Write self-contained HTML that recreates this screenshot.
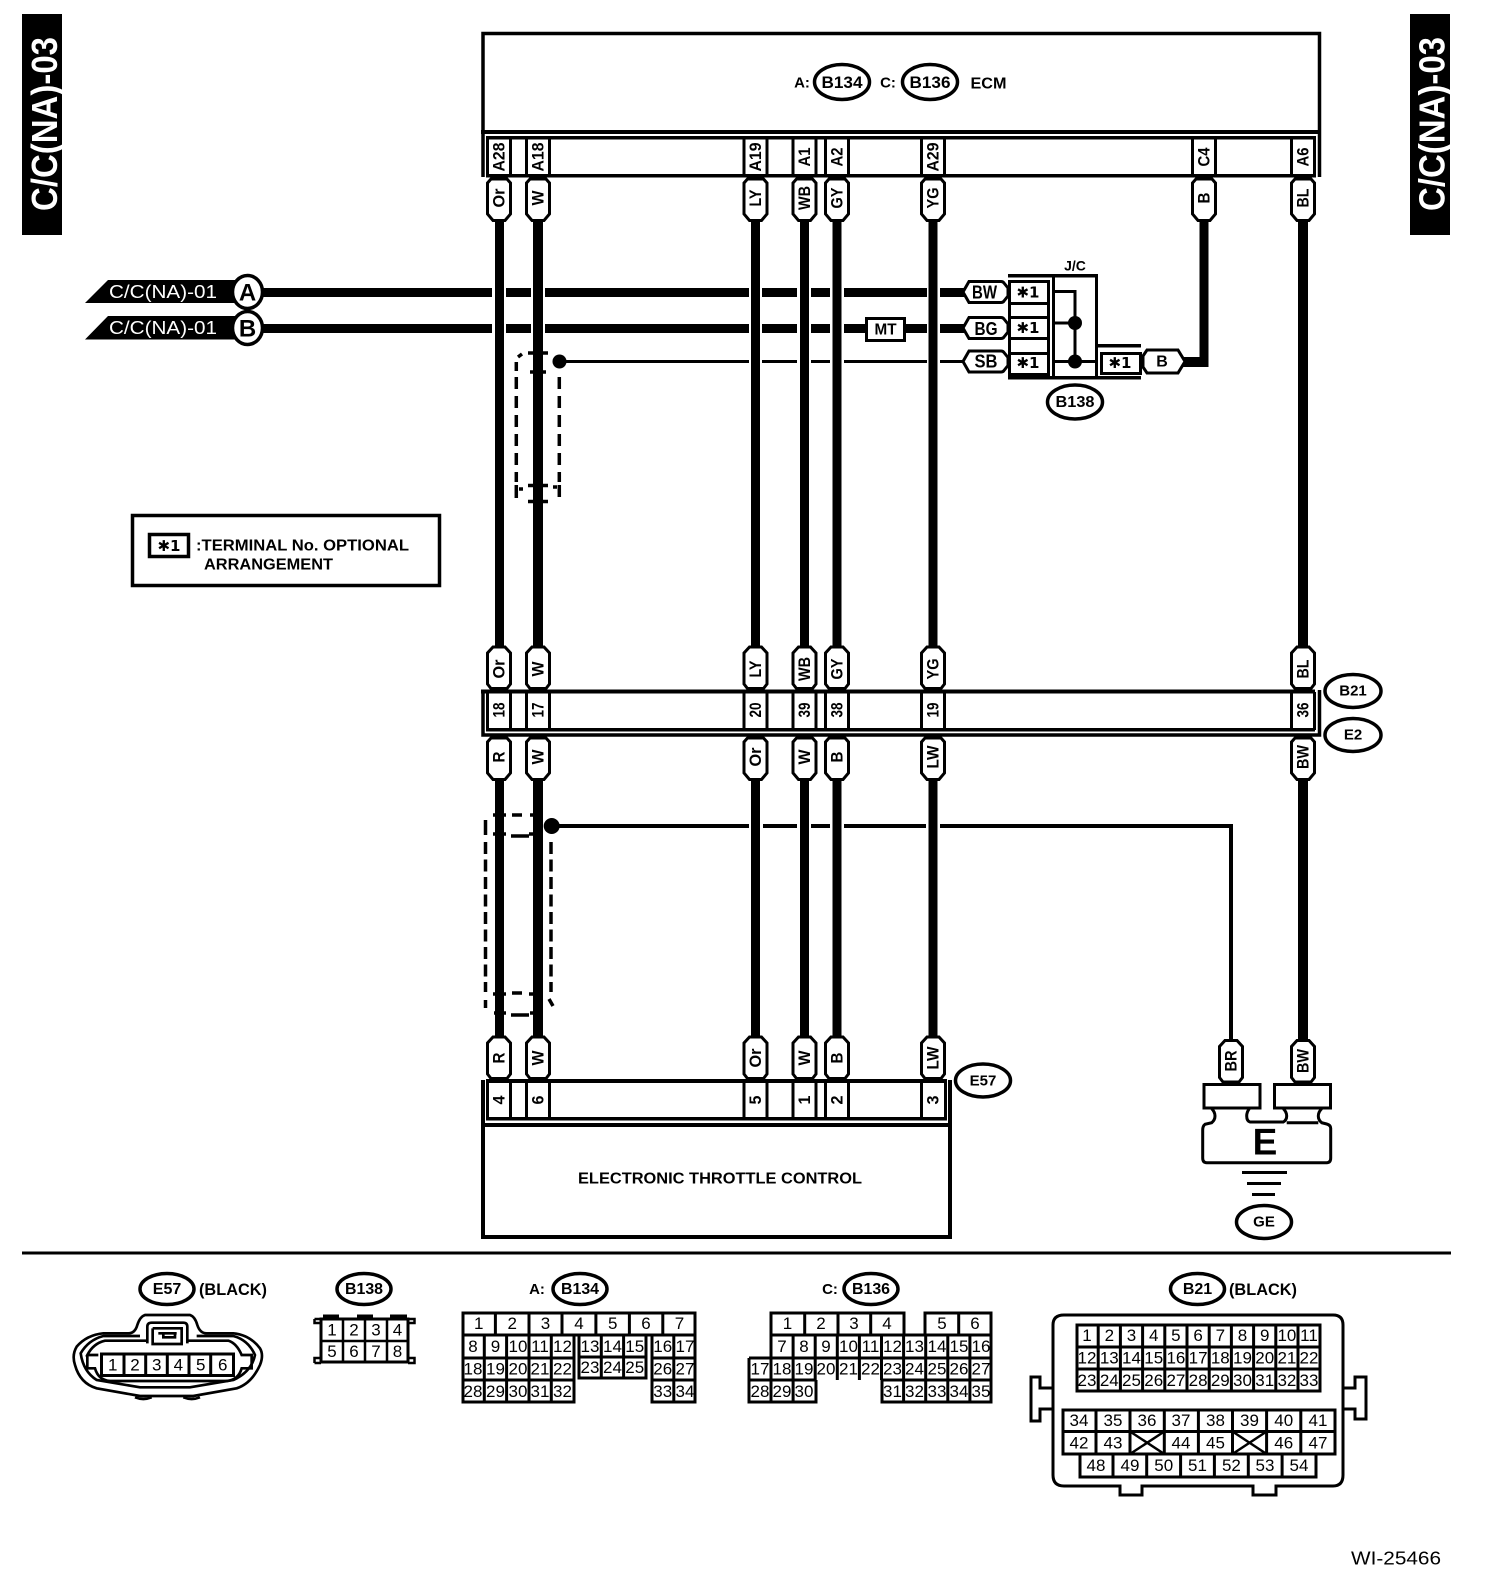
<!DOCTYPE html>
<html><head><meta charset="utf-8"><title>C/C(NA)-03</title>
<style>
html,body{margin:0;padding:0;background:#fff}
svg{display:block}
text{font-family:"Liberation Sans",sans-serif;text-anchor:middle;dominant-baseline:central;fill:#000}
.b{font-weight:bold}
.r text{font-weight:bold;font-size:17px;font-family:"Liberation Sans Narrow","Liberation Sans",sans-serif}
.n text{font-size:17px;font-family:"Liberation Sans Narrow","Liberation Sans",sans-serif}
.s{font-family:"DejaVu Sans","Liberation Sans",sans-serif;font-weight:bold}
.o{fill:#fff;stroke:#000;stroke-width:3}
.l{fill:none;stroke:#000;stroke-width:3}
.e{fill:#fff;stroke:#000;stroke-width:3.5}
</style></head><body>
<svg width="1504" height="1596" viewBox="0 0 1504 1596" xmlns="http://www.w3.org/2000/svg">
<defs>
<path id="pd" d="M-8,1H8L11.5,5V36L6,42.5H-6L-11.5,36V5Z" fill="#fff" stroke="#000" stroke-width="3"/>
<path id="pu" d="M-6,1H6L11.5,7V38L8,42.5H-8L-11.5,38V7Z" fill="#fff" stroke="#000" stroke-width="3"/>
<path id="ph" d="M1,0L7,-10.500H39Q41,-10.500 42,-9L46,-4V4L42,9Q41,10.500 39,10.500H7Z" fill="#fff" stroke="#000" stroke-width="3"/>
</defs>

<!-- side tabs -->
<rect x="22" y="14" width="40" height="221" fill="#000"/>
<rect x="1410" y="14" width="40" height="221" fill="#000"/>
<text class="b" transform="translate(44.5,124) rotate(-90)" font-size="36" textLength="174" lengthAdjust="spacingAndGlyphs" style="fill:#fff">C/C(NA)-03</text>
<text class="b" transform="translate(1432,124) rotate(-90)" font-size="36" textLength="174" lengthAdjust="spacingAndGlyphs" style="fill:#fff">C/C(NA)-03</text>

<!-- ECM box -->
<path class="l" d="M483,177V33.500H1319.500V177" style="stroke-width:3.5"/>
<path d="M481,130H1321V134H481ZM486,136H1316V139.500H486ZM486,174H1316V177.500H486Z" fill="#000"/>
<path class="l" d="M487.500,137V176M510.500,137V176M526.500,137V176M549.500,137V176M744,137V176M767,137V176M793,137V176M816,137V176M825.500,137V176M848.500,137V176M921.500,137V176M944.500,137V176M1192.500,137V176M1215.500,137V176M1291.500,137V176M1314.500,137V176"/>
<text x="802" y="83" class="b" font-size="15">A:</text>
<ellipse class="e" cx="842" cy="82" rx="27.5" ry="17.5"/>
<text x="842" y="82.5" class="b" font-size="17" textLength="41" lengthAdjust="spacingAndGlyphs">B134</text>
<text x="888" y="83" class="b" font-size="15">C:</text>
<ellipse class="e" cx="930" cy="82" rx="27.5" ry="17.5"/>
<text x="930" y="82.5" class="b" font-size="17" textLength="41" lengthAdjust="spacingAndGlyphs">B136</text>
<text x="988.5" y="84" class="b" font-size="16" textLength="36" lengthAdjust="spacingAndGlyphs">ECM</text>
<g class="r">
<text transform="translate(499,157) rotate(-90)" textLength="29" lengthAdjust="spacingAndGlyphs">A28</text>
<text transform="translate(538,157) rotate(-90)" textLength="29" lengthAdjust="spacingAndGlyphs">A18</text>
<text transform="translate(755.5,157) rotate(-90)" textLength="29" lengthAdjust="spacingAndGlyphs">A19</text>
<text transform="translate(804.5,157) rotate(-90)" textLength="19" lengthAdjust="spacingAndGlyphs">A1</text>
<text transform="translate(837,157) rotate(-90)" textLength="19" lengthAdjust="spacingAndGlyphs">A2</text>
<text transform="translate(933,157) rotate(-90)" textLength="29" lengthAdjust="spacingAndGlyphs">A29</text>
<text transform="translate(1204,157) rotate(-90)" textLength="19" lengthAdjust="spacingAndGlyphs">C4</text>
<text transform="translate(1303,157) rotate(-90)" textLength="19" lengthAdjust="spacingAndGlyphs">A6</text>
</g>

<!-- vertical wires -->
<path d="M495,221h9V646h-9ZM533,221h10V646h-10ZM751,221h9V646h-9ZM800,221h9V646h-9ZM832.500,221h9V646h-9ZM928.500,221h9V646h-9ZM1298,221h10V646h-10Z
M495,780h9V1036h-9ZM533,780h10V1036h-10ZM751,780h9V1036h-9ZM800,780h9V1036h-9ZM832.500,780h9V1036h-9ZM928.500,780h9V1036h-9ZM1298,780h10V1040h-10Z" fill="#000"/>

<!-- horizontal wires -->
<path d="M262,288h230v9H262ZM506,288h25v9h-25ZM545,288h204v9H545ZM762,288h35v9h-35ZM811,288h19v9h-19ZM844,288h83v9H844ZM940,288h24v9h-24Z
M262,324h230v9H262ZM506,324h25v9h-25ZM545,324h204v9H545ZM762,324h35v9h-35ZM811,324h19v9h-19ZM844,324h83v9H844ZM940,324h24v9h-24Z
M559,360h190v3H559ZM762,360h35v3h-35ZM811,360h19v3h-19ZM844,360h83v3H844ZM940,360h24v3h-24Z
M1199.500,221h9V367h-9ZM1183,357h25v10h-25Z
M551,824h198v4H551ZM763,824h34v4H763ZM811,824h19v4H811ZM844,824h82v4H844ZM940,824h293v4H940ZM1229,824h4v215h-4Z" fill="#000"/>

<!-- MT -->
<rect class="o" x="866.5" y="318.5" width="38" height="22"/>
<text x="885.5" y="330" class="b" font-size="16" textLength="22" lengthAdjust="spacingAndGlyphs">MT</text>

<!-- flags -->
<path d="M85,303L108,280H240V303Z" fill="#000"/>
<path d="M85,339.500L108,316H240V339.500Z" fill="#000"/>
<text x="163" y="292" font-size="18" textLength="108" lengthAdjust="spacingAndGlyphs" style="fill:#fff;font-family:'Liberation Sans Narrow','Liberation Sans',sans-serif">C/C(NA)-01</text>
<text x="163" y="328" font-size="18" textLength="108" lengthAdjust="spacingAndGlyphs" style="fill:#fff;font-family:'Liberation Sans Narrow','Liberation Sans',sans-serif">C/C(NA)-01</text>
<ellipse cx="247.5" cy="292" rx="15" ry="16.5" fill="#fff" stroke="#000" stroke-width="3.5"/>
<ellipse cx="247.5" cy="328" rx="15" ry="16.5" fill="#fff" stroke="#000" stroke-width="3.5"/>
<text x="247.5" y="293" class="b" font-size="24">A</text>
<text x="247.5" y="329" class="b" font-size="24">B</text>

<!-- upper shield -->
<path d="M516.300,377V482M559.300,377V482" fill="none" stroke="#000" stroke-width="3.5" stroke-dasharray="12 7"/>
<path d="M516.300,362V371M518,357L522,354M528,353H548M530,372H546M516.300,485V498M519,489H523M528,485.500H548M528,501.500H548M553,487H557M559.300,485V497" fill="none" stroke="#000" stroke-width="3.5"/>
<circle cx="559.5" cy="361.5" r="7"/>

<!-- lower shield -->
<path d="M485.500,842V992M551,842V992" fill="none" stroke="#000" stroke-width="3.5" stroke-dasharray="12 5.5"/>
<path d="M512,815H522M511,836H529M485.500,820V835M493,815H506M530,815H533M493,834H506M529,834H534M512,993H522M511,1015H529M485.500,1000V1008M549,999L553,1006M493,994H506M529,994H534M494,1013H506M530,1013H535" fill="none" stroke="#000" stroke-width="3.5"/>
<circle cx="551.7" cy="826" r="8"/>

<!-- J/C block -->
<text x="1075" y="265.5" class="b" font-size="14">J/C</text>
<path d="M1008,274h90v3.500h-90ZM1008,376h133v3.500H1008ZM1098,344h43v3.500h-43Z" fill="#000"/>
<path class="l" d="M1053.500,276V378M1096.500,276V378"/>
<rect class="o" x="1009.5" y="281.5" width="39" height="22"/>
<rect class="o" x="1009.5" y="317.5" width="39" height="21"/>
<rect class="o" x="1009.5" y="353.5" width="39" height="21"/>
<path class="l" d="M1009.500,281V375M1048.500,281V375"/>
<rect class="o" x="1101.5" y="353.5" width="39" height="20"/>
<path class="l" d="M1054,291.500H1075V361.500M1054,323H1075M1054,361.500H1096"/>
<circle cx="1075" cy="323" r="7"/><circle cx="1075" cy="361.5" r="7"/>
<use href="#ph" x="962" y="292"/><use href="#ph" x="962" y="328"/><use href="#ph" x="962" y="361.5"/>
<path class="o" d="M1147,350H1178L1185,361.500L1178,373H1147L1143,367V356Z"/>
<text x="984.5" y="292.5" class="b" font-size="18" textLength="25" lengthAdjust="spacingAndGlyphs">BW</text>
<text x="986" y="329" class="b" font-size="18" textLength="23" lengthAdjust="spacingAndGlyphs">BG</text>
<text x="986" y="361.5" class="b" font-size="18" textLength="23" lengthAdjust="spacingAndGlyphs">SB</text>
<text x="1162" y="362" class="b" font-size="16">B</text>
<text x="1028" y="292.5" font-size="15" class="s">✱1</text>
<text x="1028" y="328" font-size="15" class="s">✱1</text>
<text x="1028" y="363" font-size="15" class="s">✱1</text>
<text x="1120" y="363" font-size="15" class="s">✱1</text>
<ellipse class="e" cx="1075" cy="402" rx="27.5" ry="17"/>
<text x="1075" y="402.5" class="b" font-size="16" textLength="39" lengthAdjust="spacingAndGlyphs">B138</text>

<!-- legend -->
<rect class="l" x="132.5" y="515.5" width="307" height="70" style="stroke-width:3.5"/>
<rect class="l" x="149.5" y="534.5" width="39" height="22" style="stroke-width:3.5"/>
<text x="169" y="546" font-size="15" class="s">✱1</text>
<text x="302.5" y="546" font-size="16" class="b" textLength="213" lengthAdjust="spacingAndGlyphs">:TERMINAL No. OPTIONAL</text>
<text x="268.5" y="565" font-size="16" class="b" textLength="129" lengthAdjust="spacingAndGlyphs">ARRANGEMENT</text>

<!-- top wire pills -->
<use href="#pd" x="499" y="178"/><use href="#pd" x="538" y="178"/><use href="#pd" x="755.5" y="178"/><use href="#pd" x="804.5" y="178"/><use href="#pd" x="837" y="178"/><use href="#pd" x="933" y="178"/><use href="#pd" x="1204" y="178"/><use href="#pd" x="1303" y="178"/>
<g class="r">
<text transform="translate(499,198) rotate(-90)" textLength="19" lengthAdjust="spacingAndGlyphs">Or</text>
<text transform="translate(538,198) rotate(-90)" textLength="15" lengthAdjust="spacingAndGlyphs">W</text>
<text transform="translate(755.5,198) rotate(-90)" textLength="17" lengthAdjust="spacingAndGlyphs">LY</text>
<text transform="translate(804.5,198) rotate(-90)" textLength="24" lengthAdjust="spacingAndGlyphs">WB</text>
<text transform="translate(837,198) rotate(-90)" textLength="21" lengthAdjust="spacingAndGlyphs">GY</text>
<text transform="translate(933,198) rotate(-90)" textLength="21" lengthAdjust="spacingAndGlyphs">YG</text>
<text transform="translate(1204,198) rotate(-90)" textLength="11" lengthAdjust="spacingAndGlyphs">B</text>
<text transform="translate(1303,198) rotate(-90)" textLength="19" lengthAdjust="spacingAndGlyphs">BL</text>
</g>

<!-- B21 / E2 connector -->
<path class="l" d="M483,690V735H1319.500V690" style="stroke-width:3.5"/>
<path d="M481,689.500H1315V693.500H481ZM486,728H1315V731.500H486Z" fill="#000"/>
<path class="l" d="M487.500,692V730M510.500,692V730M526.500,692V730M549.500,692V730M744,692V730M767,692V730M793,692V730M816,692V730M825.500,692V730M848.500,692V730M921.500,692V730M944.500,692V730M1291.500,692V730M1314.500,692V730"/>
<use href="#pu" x="499" y="646"/><use href="#pu" x="538" y="646"/><use href="#pu" x="755.5" y="646"/><use href="#pu" x="804.5" y="646"/><use href="#pu" x="837" y="646"/><use href="#pu" x="933" y="646"/><use href="#pu" x="1303" y="646"/>
<use href="#pd" x="499" y="737"/><use href="#pd" x="538" y="737"/><use href="#pd" x="755.5" y="737"/><use href="#pd" x="804.5" y="737"/><use href="#pd" x="837" y="737"/><use href="#pd" x="933" y="737"/><use href="#pd" x="1303" y="737"/>
<g class="r">
<text transform="translate(499,669) rotate(-90)" textLength="19" lengthAdjust="spacingAndGlyphs">Or</text>
<text transform="translate(538,669) rotate(-90)" textLength="15" lengthAdjust="spacingAndGlyphs">W</text>
<text transform="translate(755.5,669) rotate(-90)" textLength="17" lengthAdjust="spacingAndGlyphs">LY</text>
<text transform="translate(804.5,669) rotate(-90)" textLength="24" lengthAdjust="spacingAndGlyphs">WB</text>
<text transform="translate(837,669) rotate(-90)" textLength="21" lengthAdjust="spacingAndGlyphs">GY</text>
<text transform="translate(933,669) rotate(-90)" textLength="21" lengthAdjust="spacingAndGlyphs">YG</text>
<text transform="translate(1303,669) rotate(-90)" textLength="19" lengthAdjust="spacingAndGlyphs">BL</text>
<text transform="translate(499,710) rotate(-90)" textLength="15" lengthAdjust="spacingAndGlyphs">18</text>
<text transform="translate(538,710) rotate(-90)" textLength="15" lengthAdjust="spacingAndGlyphs">17</text>
<text transform="translate(755.5,710) rotate(-90)" textLength="15" lengthAdjust="spacingAndGlyphs">20</text>
<text transform="translate(804.5,710) rotate(-90)" textLength="15" lengthAdjust="spacingAndGlyphs">39</text>
<text transform="translate(837,710) rotate(-90)" textLength="15" lengthAdjust="spacingAndGlyphs">38</text>
<text transform="translate(933,710) rotate(-90)" textLength="15" lengthAdjust="spacingAndGlyphs">19</text>
<text transform="translate(1303,710) rotate(-90)" textLength="15" lengthAdjust="spacingAndGlyphs">36</text>
<text transform="translate(499,757) rotate(-90)" textLength="11" lengthAdjust="spacingAndGlyphs">R</text>
<text transform="translate(538,757) rotate(-90)" textLength="15" lengthAdjust="spacingAndGlyphs">W</text>
<text transform="translate(755.5,757) rotate(-90)" textLength="19" lengthAdjust="spacingAndGlyphs">Or</text>
<text transform="translate(804.5,757) rotate(-90)" textLength="15" lengthAdjust="spacingAndGlyphs">W</text>
<text transform="translate(837,757) rotate(-90)" textLength="11" lengthAdjust="spacingAndGlyphs">B</text>
<text transform="translate(933,757) rotate(-90)" textLength="23" lengthAdjust="spacingAndGlyphs">LW</text>
<text transform="translate(1303,757) rotate(-90)" textLength="24" lengthAdjust="spacingAndGlyphs">BW</text>
</g>
<ellipse class="e" cx="1353" cy="691" rx="28" ry="16.5"/>
<ellipse class="e" cx="1353" cy="735" rx="28" ry="16.5"/>
<text x="1353" y="691" class="b" font-size="15">B21</text>
<text x="1353" y="735" class="b" font-size="15">E2</text>

<!-- E57 connector + throttle box -->
<path class="l" d="M483,1080V1237H950V1080" style="stroke-width:4"/>
<path d="M481,1123H952V1127H481ZM486,1079H947V1083H486ZM486,1117H947V1120.500H486Z" fill="#000"/>
<path class="l" d="M487.500,1081V1119M510.500,1081V1119M526.500,1081V1119M549.500,1081V1119M744,1081V1119M767,1081V1119M793,1081V1119M816,1081V1119M825.500,1081V1119M848.500,1081V1119M921.500,1081V1119M945.500,1081V1119"/>
<use href="#pu" x="499" y="1036"/><use href="#pu" x="538" y="1036"/><use href="#pu" x="755.5" y="1036"/><use href="#pu" x="804.5" y="1036"/><use href="#pu" x="837" y="1036"/><use href="#pu" x="933" y="1036"/>
<g class="r">
<text transform="translate(499,1058) rotate(-90)" textLength="11" lengthAdjust="spacingAndGlyphs">R</text>
<text transform="translate(538,1058) rotate(-90)" textLength="15" lengthAdjust="spacingAndGlyphs">W</text>
<text transform="translate(755.5,1058) rotate(-90)" textLength="19" lengthAdjust="spacingAndGlyphs">Or</text>
<text transform="translate(804.5,1058) rotate(-90)" textLength="15" lengthAdjust="spacingAndGlyphs">W</text>
<text transform="translate(837,1058) rotate(-90)" textLength="11" lengthAdjust="spacingAndGlyphs">B</text>
<text transform="translate(933,1058) rotate(-90)" textLength="23" lengthAdjust="spacingAndGlyphs">LW</text>
<text transform="translate(499,1100) rotate(-90)" textLength="9" lengthAdjust="spacingAndGlyphs">4</text>
<text transform="translate(538,1100) rotate(-90)" textLength="9" lengthAdjust="spacingAndGlyphs">6</text>
<text transform="translate(755.5,1100) rotate(-90)" textLength="9" lengthAdjust="spacingAndGlyphs">5</text>
<text transform="translate(804.5,1100) rotate(-90)" textLength="9" lengthAdjust="spacingAndGlyphs">1</text>
<text transform="translate(837,1100) rotate(-90)" textLength="9" lengthAdjust="spacingAndGlyphs">2</text>
<text transform="translate(933,1100) rotate(-90)" textLength="9" lengthAdjust="spacingAndGlyphs">3</text>
</g>
<ellipse class="e" cx="983" cy="1080.5" rx="27.5" ry="16.5"/>
<text x="983" y="1081" class="b" font-size="15">E57</text>
<text x="720" y="1179" class="b" font-size="16" textLength="284" lengthAdjust="spacingAndGlyphs">ELECTRONIC THROTTLE CONTROL</text>

<!-- E ground -->
<use href="#pu" x="1231" y="1039.500"/><use href="#pu" x="1303" y="1039.500"/>
<g class="r">
<text transform="translate(1231,1061) rotate(-90)" textLength="21" lengthAdjust="spacingAndGlyphs">BR</text>
<text transform="translate(1303,1061) rotate(-90)" textLength="24" lengthAdjust="spacingAndGlyphs">BW</text>
</g>
<rect class="o" x="1204" y="1084.5" width="56" height="23.5"/>
<rect class="o" x="1274.5" y="1084.5" width="56" height="23.5"/>
<path class="l" d="M1211.700,1108.700Q1215,1112 1215,1116Q1215,1120 1211.700,1122.700L1205,1124.300Q1202.700,1126 1202.700,1130V1158Q1202.700,1162.700 1206.700,1162.700H1326.700Q1330.700,1162.700 1330.700,1158V1128.300Q1330.700,1125 1326.700,1124L1321.700,1122.700Q1318.300,1120 1318.300,1116Q1318.300,1112 1321.700,1108.700M1249.300,1108.700Q1246.700,1112 1246.700,1116Q1246.700,1121 1250,1122H1283.300Q1286.700,1120 1286.700,1116Q1286.700,1112 1283.300,1108.700M1286.700,1122.700H1318.300"/>
<text x="1265" y="1142" class="b" font-size="37">E</text>
<path class="l" d="M1242,1172.500H1287M1247,1183.500H1281M1252,1194.500H1275"/>
<ellipse class="e" cx="1264" cy="1222" rx="27.5" ry="16.5"/>
<text x="1264" y="1222" class="b" font-size="15">GE</text>

<!-- divider -->
<rect x="22" y="1251.5" width="1429" height="3"/>

<!-- bottom: E57 -->
<ellipse class="e" cx="167" cy="1289" rx="27" ry="15.5"/>
<text x="167" y="1289.5" class="b" font-size="16">E57</text>
<text x="233" y="1289.5" class="b" font-size="17" textLength="68" lengthAdjust="spacingAndGlyphs">(BLACK)</text>
<g transform="translate(60,1300) scale(.3333)" fill="none" stroke="#000" stroke-width="8">
<path d="M255,45H390Q405,50 412,75Q420,100 440,100H520Q570,105 600,145Q612,165 600,195Q575,250 530,265L400,288H240L110,265Q60,250 45,195Q35,165 50,140Q80,105 130,100H205Q225,100 232,75Q240,50 255,45Z"/>
<path d="M240,108H130Q85,120 62,160Q70,215 110,240L240,262H390L520,240Q575,215 585,165Q565,120 520,108H410"/>
<path d="M262,122H135Q100,130 82,165H115M82,165V205H105Q115,240 150,243L500,243Q535,240 545,205H575V165H545Q530,130 505,122H385"/>
<path d="M262,130V80Q262,68 275,68H370Q382,68 382,80V130M278,85V132H365V85H278M295,100H350M310,98V112H345V98"/>
<path d="M225,292Q250,302 275,292M370,292Q395,302 420,292"/>
</g>
<rect class="o" x="101.5" y="1354" width="132" height="21.500"/>
<path class="l" d="M124,1354V1375M145.700,1354V1375M167.300,1354V1375M189,1354V1375M210.700,1354V1375"/>
<g class="n">
<text x="112.700" y="1365">1</text><text x="135" y="1365">2</text><text x="156.700" y="1365">3</text><text x="178.300" y="1365">4</text><text x="200.700" y="1365">5</text><text x="222.700" y="1365">6</text>
</g>

<!-- bottom: B138 -->
<ellipse class="e" cx="364" cy="1289" rx="27" ry="15.5"/>
<text x="364" y="1289.5" class="b" font-size="16" textLength="38" lengthAdjust="spacingAndGlyphs">B138</text>
<rect class="o" x="321" y="1319" width="87" height="43"/>
<path class="l" d="M343,1319V1362M365,1319V1362M387,1319V1362M321,1341H408M314.500,1319H321M314.500,1319V1323H321M408,1319H414.500V1323H408M314.500,1363H321M314.500,1363V1358H321M408,1363H414.500V1358H408" style="stroke-width:2.5"/>
<path d="M323,1314.500h16v3h-16ZM357,1314.500h16v3h-16ZM390,1314.500h17v3h-17Z"/>
<g class="n">
<text x="332" y="1330">1</text><text x="354" y="1330">2</text><text x="376" y="1330">3</text><text x="397.500" y="1330">4</text>
<text x="332" y="1351.5">5</text><text x="354" y="1351.5">6</text><text x="376" y="1351.5">7</text><text x="397.500" y="1351.5">8</text>
</g>

<!-- bottom: B134 -->
<text x="537" y="1289.5" class="b" font-size="15">A:</text>
<ellipse class="e" cx="580" cy="1289" rx="27" ry="15.5"/>
<text x="580" y="1289.5" class="b" font-size="16" textLength="38" lengthAdjust="spacingAndGlyphs">B134</text>
<path class="l" d="M463,1313H695V1335H463ZM495.400,1313V1335M529,1313V1335M562,1313V1335M595.900,1313V1335M629.400,1313V1335M662.800,1313V1335
M463,1335V1402H574V1335M463,1358H574M463,1380H574M484.300,1335V1402M506.600,1335V1402M529,1335V1402M551.300,1335V1402
M579,1335V1378H646V1335M579,1357H646M601.300,1335V1378M623.600,1335V1378
M652,1335V1402H695V1335M652,1358H695M652,1380H695M673.800,1335V1402"/>
<g class="n">
<text x="478.7" y="1323.5">1</text><text x="512.2" y="1323.5">2</text><text x="545.5" y="1323.5">3</text><text x="579" y="1323.5">4</text><text x="612.7" y="1323.5">5</text><text x="646" y="1323.5">6</text><text x="679.5" y="1323.5">7</text>
<text x="473" y="1346.5">8</text><text x="495.5" y="1346.5">9</text><text x="518" y="1346.5">10</text><text x="540" y="1346.5">11</text><text x="562.5" y="1346.5">12</text><text x="590" y="1346.5">13</text><text x="612.5" y="1346.5">14</text><text x="634.7" y="1346.5">15</text><text x="662.7" y="1346.5">16</text><text x="685" y="1346.5">17</text>
<text x="473" y="1369">18</text><text x="495.5" y="1369">19</text><text x="518" y="1369">20</text><text x="540" y="1369">21</text><text x="562.5" y="1369">22</text><text x="590" y="1367.5">23</text><text x="612.5" y="1367.5">24</text><text x="634.7" y="1367.5">25</text><text x="662.7" y="1369">26</text><text x="685" y="1369">27</text>
<text x="473" y="1391.5">28</text><text x="495.5" y="1391.5">29</text><text x="518" y="1391.5">30</text><text x="540" y="1391.5">31</text><text x="562.5" y="1391.5">32</text><text x="662.7" y="1391.5">33</text><text x="685" y="1391.5">34</text>
</g>

<!-- bottom: B136 -->
<text x="830" y="1289.5" class="b" font-size="15">C:</text>
<ellipse class="e" cx="871" cy="1289" rx="27" ry="15.5"/>
<text x="871" y="1289.5" class="b" font-size="16" textLength="38" lengthAdjust="spacingAndGlyphs">B136</text>
<path class="l" d="M771,1313H904V1335H771ZM804.700,1313V1335M838,1313V1335M870.700,1313V1335M925,1335V1313H991V1335M958.700,1313V1335
M771,1335H991V1402H882V1380M771,1335V1358M749,1358H991M749,1358V1402H816V1380M749,1380H816M882,1380H991
M793.100,1335V1402M815.200,1335V1380M837.300,1335V1380M859.400,1335V1380M881.500,1335V1380M903.600,1335V1402M925.700,1335V1402M947.800,1335V1402M969.900,1335V1402M771,1358V1402"/>
<g class="n">
<text x="787.5" y="1323.5">1</text><text x="821" y="1323.5">2</text><text x="854" y="1323.5">3</text><text x="887" y="1323.5">4</text><text x="942" y="1323.5">5</text><text x="975" y="1323.5">6</text>
<text x="782" y="1346.5">7</text><text x="804" y="1346.5">8</text><text x="826" y="1346.5">9</text><text x="848.5" y="1346.5">10</text><text x="870.5" y="1346.5">11</text><text x="892.5" y="1346.5">12</text><text x="914.5" y="1346.5">13</text><text x="937" y="1346.5">14</text><text x="959" y="1346.5">15</text><text x="981" y="1346.5">16</text>
<text x="760" y="1369">17</text><text x="782" y="1369">18</text><text x="804" y="1369">19</text><text x="826" y="1369">20</text><text x="848.5" y="1369">21</text><text x="870.5" y="1369">22</text><text x="892.5" y="1369">23</text><text x="914.5" y="1369">24</text><text x="937" y="1369">25</text><text x="959" y="1369">26</text><text x="981" y="1369">27</text>
<text x="760" y="1391.5">28</text><text x="782" y="1391.5">29</text><text x="804" y="1391.5">30</text><text x="892.5" y="1391.5">31</text><text x="914.5" y="1391.5">32</text><text x="937" y="1391.5">33</text><text x="959" y="1391.5">34</text><text x="981" y="1391.5">35</text>
</g>

<!-- bottom: B21 -->
<ellipse class="e" cx="1197.5" cy="1289" rx="27" ry="15.5"/>
<text x="1197.5" y="1289.5" class="b" font-size="16">B21</text>
<text x="1263" y="1289.5" class="b" font-size="17" textLength="68" lengthAdjust="spacingAndGlyphs">(BLACK)</text>
<path class="l" d="M1064,1315H1333Q1343,1315 1343,1325V1475Q1343,1486 1333,1486H1276V1495H1253V1486H1142V1495H1120V1486H1064Q1053,1486 1053,1475V1325Q1053,1315 1064,1315Z"/>
<path class="l" d="M1053,1388H1040V1377H1031V1421H1040V1409H1053M1343,1388H1355V1377H1366V1419H1355V1409H1343"/>
<path class="l" d="M1077,1325H1320V1391H1077ZM1077,1347H1320M1077,1369H1320M1098.200,1325V1391M1120.400,1325V1391M1142.600,1325V1391M1164.800,1325V1391M1187,1325V1391M1209.200,1325V1391M1231.400,1325V1391M1253.600,1325V1391M1275.800,1325V1391M1298,1325V1391
M1063,1410H1335V1454H1063ZM1063,1431.500H1335M1096,1410V1454M1130,1410V1454M1164.300,1410V1454M1198.400,1410V1454M1232.500,1410V1454M1266.600,1410V1454M1300.800,1410V1454
M1080,1454V1477H1316V1454M1113,1454V1477M1146.700,1454V1477M1180.600,1454V1477M1214.400,1454V1477M1248.300,1454V1477M1282.100,1454V1477"/>
<path class="l" d="M1130,1431.500L1164.300,1454M1164.300,1431.500L1130,1454M1232.500,1431.500L1266.600,1454M1266.600,1431.500L1232.500,1454" style="stroke-width:2.5"/>
<g class="n">
<text x="1087" y="1335.5">1</text><text x="1109.3" y="1335.5">2</text><text x="1131.5" y="1335.5">3</text><text x="1153.7" y="1335.5">4</text><text x="1175.9" y="1335.5">5</text><text x="1198.1" y="1335.5">6</text><text x="1220.3" y="1335.5">7</text><text x="1242.5" y="1335.5">8</text><text x="1264.7" y="1335.5">9</text><text x="1286.9" y="1335.5">10</text><text x="1309" y="1335.5">11</text>
<text x="1087" y="1358">12</text><text x="1109.3" y="1358">13</text><text x="1131.5" y="1358">14</text><text x="1153.7" y="1358">15</text><text x="1175.9" y="1358">16</text><text x="1198.1" y="1358">17</text><text x="1220.3" y="1358">18</text><text x="1242.5" y="1358">19</text><text x="1264.7" y="1358">20</text><text x="1286.9" y="1358">21</text><text x="1309" y="1358">22</text>
<text x="1087" y="1380.5">23</text><text x="1109.3" y="1380.5">24</text><text x="1131.5" y="1380.5">25</text><text x="1153.7" y="1380.5">26</text><text x="1175.9" y="1380.5">27</text><text x="1198.1" y="1380.5">28</text><text x="1220.3" y="1380.5">29</text><text x="1242.5" y="1380.5">30</text><text x="1264.7" y="1380.5">31</text><text x="1286.9" y="1380.5">32</text><text x="1309" y="1380.5">33</text>
<text x="1079" y="1420.5">34</text><text x="1113" y="1420.5">35</text><text x="1147" y="1420.5">36</text><text x="1181" y="1420.5">37</text><text x="1215.5" y="1420.5">38</text><text x="1249.5" y="1420.5">39</text><text x="1283.7" y="1420.5">40</text><text x="1318" y="1420.5">41</text>
<text x="1079" y="1443">42</text><text x="1113" y="1443">43</text><text x="1181" y="1443">44</text><text x="1215.5" y="1443">45</text><text x="1283.7" y="1443">46</text><text x="1318" y="1443">47</text>
<text x="1096" y="1465.5">48</text><text x="1130" y="1465.5">49</text><text x="1163.7" y="1465.5">50</text><text x="1197.5" y="1465.5">51</text><text x="1231.4" y="1465.5">52</text><text x="1265" y="1465.5">53</text><text x="1299" y="1465.5">54</text>
</g>

<text x="1396" y="1558.5" font-size="18" textLength="90" lengthAdjust="spacingAndGlyphs">WI-25466</text>
</svg>
</body></html>
